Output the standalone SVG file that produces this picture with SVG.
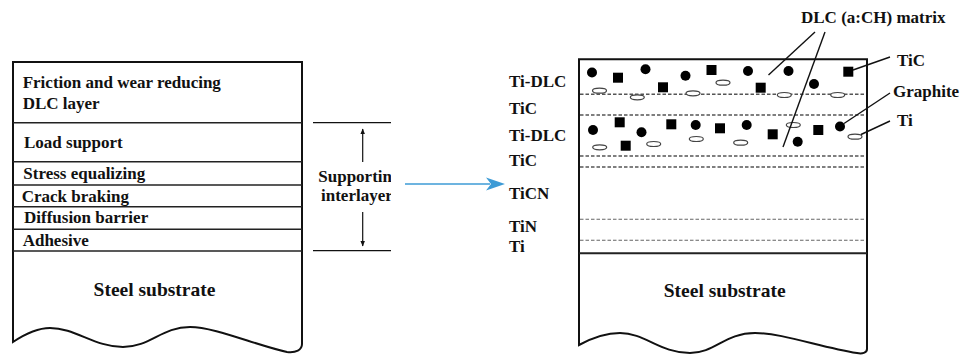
<svg xmlns="http://www.w3.org/2000/svg" width="965" height="356" viewBox="0 0 965 356">
<style>
  .t{font-family:"Liberation Serif","Times New Roman",serif;font-weight:bold;font-size:17px;fill:#111}
  .big{font-size:19.5px}
  .box{fill:#fff;stroke:#111;stroke-width:2}
  .sep{stroke:#222;stroke-width:1.5;fill:none}
  .dash{stroke:#555;stroke-width:1.6;stroke-dasharray:3.5 2;fill:none}
  .dash2{stroke:#666;stroke-width:1.1;stroke-dasharray:3.5 2;fill:none}
  .c{fill:#000}
  .sq{fill:#000}
  .el{fill:#fff;stroke:#444;stroke-width:1.2}
  .lead{stroke:#111;stroke-width:1.4;fill:none}
  .thin{stroke:#111;stroke-width:1.2;fill:none}
</style>
<defs>
  <marker id="ah" viewBox="0 0 10 10" refX="9" refY="5" markerWidth="5" markerHeight="5" orient="auto-start-reverse">
    <path d="M0,1 L10,5 L0,9 Z" fill="#111"/>
  </marker>
  <clipPath id="clipSup"><rect x="300" y="160" width="91" height="50"/></clipPath>
</defs>
<rect width="965" height="356" fill="#fff"/>

<g id="left-coating">
  <path class="box" d="M13,62 H302 V344 C302,350 296,353 287,352 C255,345 215,327 190,327 C162,327 150,347 123,347 C95,347 75,328 50,328 C35,328 22,336 13,342 Z"/>
  <line class="sep" x1="13" y1="122.7" x2="302" y2="122.7"/>
  <line class="sep" x1="13" y1="161.7" x2="302" y2="161.7"/>
  <line class="sep" x1="13" y1="185" x2="302" y2="185"/>
  <line class="sep" x1="13" y1="206.7" x2="302" y2="206.7"/>
  <line class="sep" x1="13" y1="229.3" x2="302" y2="229.3"/>
  <line class="sep" x1="13" y1="251" x2="302" y2="251"/>
  <text class="t" x="22.7" y="88.3">Friction and wear reducing</text>
  <text class="t" x="22.7" y="109">DLC layer</text>
  <text class="t" x="24" y="148.3">Load support</text>
  <text class="t" x="23.3" y="179.3">Stress equalizing</text>
  <text class="t" x="21.7" y="201.7">Crack braking</text>
  <text class="t" x="24" y="223.3">Diffusion barrier</text>
  <text class="t" x="22.7" y="246">Adhesive</text>
  <text class="t big" x="154.5" y="296" text-anchor="middle">Steel substrate</text>
</g>

<g id="bracket">
  <line class="thin" x1="313" y1="122.7" x2="391" y2="122.7"/>
  <line class="thin" x1="313" y1="250.7" x2="391" y2="250.7"/>
  <line class="thin" x1="362.7" y1="162" x2="362.7" y2="129" marker-end="url(#ah)"/>
  <line class="thin" x1="362.7" y1="212" x2="362.7" y2="246" marker-end="url(#ah)"/>
  <g clip-path="url(#clipSup)">
    <text class="t" x="318.3" y="181.7">Supporting</text>
    <text class="t" x="321" y="201">interlayer</text>
  </g>
</g>

<g id="right-coating">
  <path class="box" d="M579,59.3 H867 V349 C867,353 862,354 857,353 C820,347 782,333 755,333 C725,333 715,353 690,353 C660,353 645,333 620,333 C603,333 590,339 579,345 Z"/>
  <line class="dash" x1="580" y1="94.3" x2="866" y2="94.3"/>
  <line class="dash" x1="580" y1="115" x2="866" y2="115"/>
  <line class="dash" x1="580" y1="156" x2="866" y2="156"/>
  <line class="dash" x1="580" y1="167" x2="866" y2="167"/>
  <line class="dash2" x1="580" y1="219.3" x2="866" y2="219.3"/>
  <line class="dash2" x1="580" y1="240.3" x2="866" y2="240.3"/>
  <line class="sep" x1="579" y1="253.3" x2="867" y2="253.3" style="stroke-width:2"/>
  <text class="t big" x="724.7" y="297.3" text-anchor="middle">Steel substrate</text>
</g>

<g id="particles">
  <circle class="c" cx="592" cy="72.5" r="5"/>
  <circle class="c" cx="645.5" cy="69.3" r="5"/>
  <circle class="c" cx="685.5" cy="75.7" r="5"/>
  <circle class="c" cx="748" cy="71" r="5"/>
  <circle class="c" cx="788.5" cy="71" r="5"/>
  <circle class="c" cx="814" cy="84" r="5"/>
  <rect class="sq" x="613" y="72.7" width="10" height="10"/>
  <rect class="sq" x="658" y="82.3" width="10" height="10"/>
  <rect class="sq" x="706.5" y="65" width="10" height="10"/>
  <rect class="sq" x="755.7" y="82.7" width="10" height="10"/>
  <rect class="sq" x="843.3" y="66.7" width="10" height="10"/>
  <ellipse class="el" cx="599.5" cy="90.7" rx="7" ry="2.5"/>
  <ellipse class="el" cx="637.3" cy="97.3" rx="7" ry="2.5"/>
  <ellipse class="el" cx="693" cy="93.3" rx="7" ry="2.5"/>
  <ellipse class="el" cx="723" cy="82.7" rx="7" ry="2.5"/>
  <ellipse class="el" cx="784.3" cy="95" rx="7" ry="2.5"/>
  <ellipse class="el" cx="837.7" cy="95" rx="7" ry="2.5"/>

  <circle class="c" cx="593" cy="130" r="5"/>
  <circle class="c" cx="641.5" cy="132.3" r="5"/>
  <circle class="c" cx="695.7" cy="125" r="5"/>
  <circle class="c" cx="746.7" cy="125" r="5"/>
  <circle class="c" cx="797.7" cy="141.7" r="5"/>
  <circle class="c" cx="840" cy="126.5" r="5"/>
  <rect class="sq" x="614.7" y="117.3" width="10" height="10"/>
  <rect class="sq" x="666.3" y="119.3" width="10" height="10"/>
  <rect class="sq" x="715" y="123.3" width="10" height="10"/>
  <rect class="sq" x="767.7" y="129.3" width="10" height="10"/>
  <rect class="sq" x="813.3" y="125" width="10" height="10"/>
  <rect class="sq" x="620.7" y="140.7" width="10" height="10"/>
  <ellipse class="el" cx="599.7" cy="147.3" rx="7" ry="2.5"/>
  <ellipse class="el" cx="653.7" cy="144" rx="7" ry="2.5"/>
  <ellipse class="el" cx="696.3" cy="139" rx="7" ry="2.5"/>
  <ellipse class="el" cx="740.7" cy="142.7" rx="7" ry="2.5"/>
  <ellipse class="el" cx="793.3" cy="125" rx="7" ry="2.5"/>
  <ellipse class="el" cx="855" cy="136.7" rx="7" ry="2.5"/>
</g>

<g id="layer-labels">
  <text class="t" x="509" y="87.3">Ti-DLC</text>
  <text class="t" x="509" y="114">TiC</text>
  <text class="t" x="509" y="141">Ti-DLC</text>
  <text class="t" x="509" y="166">TiC</text>
  <text class="t" x="509" y="199.3">TiCN</text>
  <text class="t" x="509" y="231.7">TiN</text>
  <text class="t" x="509" y="252.3">Ti</text>
</g>

<g id="legend-labels">
  <text class="t" x="801" y="23.3">DLC (a:CH) matrix</text>
  <text class="t" x="897" y="66">TiC</text>
  <text class="t" x="893" y="97">Graphite</text>
  <text class="t" x="897" y="126">Ti</text>
</g>

<g id="connectors">
  <line x1="405" y1="184" x2="490" y2="184" stroke="#3d9bd6" stroke-width="1.6"/>
  <path d="M505,184 L486,177.5 L491,184 L486,190.5 Z" fill="#3d9bd6"/>
  <line class="lead" x1="815" y1="32" x2="768.5" y2="75"/>
  <line class="lead" x1="825" y1="32" x2="783" y2="147"/>
  <line class="lead" x1="853" y1="70" x2="890" y2="57"/>
  <line class="lead" x1="844" y1="123.5" x2="890" y2="93"/>
  <line class="lead" x1="861" y1="134.5" x2="890" y2="121"/>
</g>
</svg>
